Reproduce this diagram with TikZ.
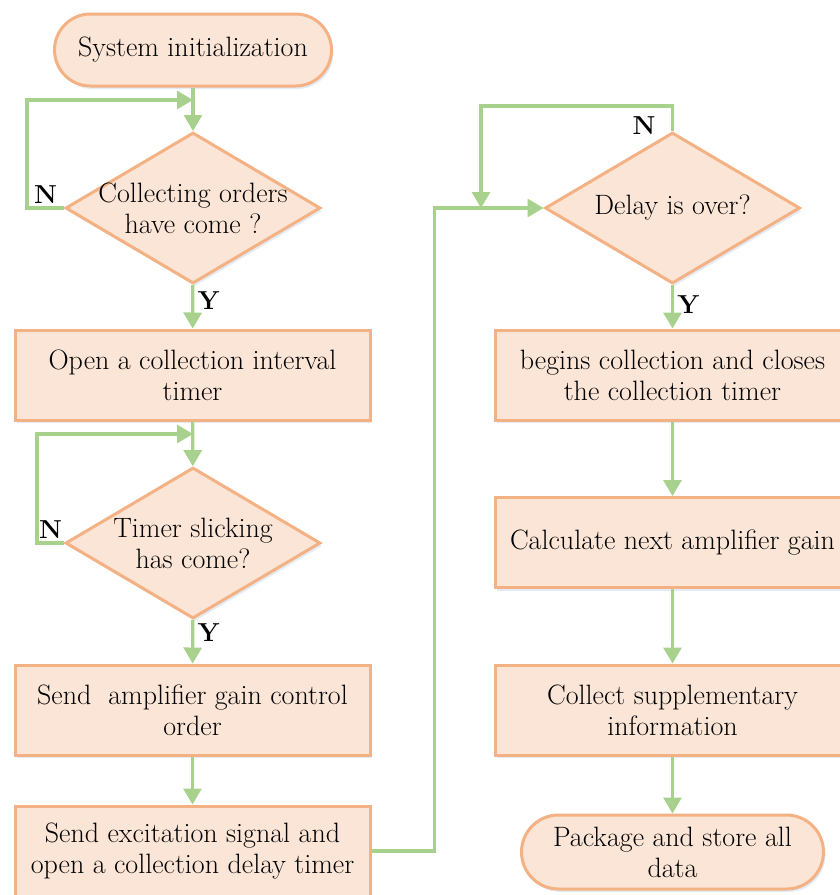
\documentclass[tikz,border=0pt]{standalone}
\usepackage{tikz}
\usetikzlibrary{shapes, arrows.meta, positioning, shadows}
\definecolor{boxfill}{HTML}{FBE5D6}
\definecolor{boxline}{HTML}{F4B183}
\definecolor{flowline}{HTML}{A9D18E}
\newcommand{\ans}{\bfseries\fontsize{26}{26}\selectfont}

\begin{document}
\begin{tikzpicture}[x=1pt,y=-1pt,font=\fontsize{28}{31}\selectfont,
	lightshadow/.style={drop shadow={shadow xshift=2pt,shadow yshift=-3pt,fill=cyan!40!blue,opacity=.12}},
	box/.style={draw=boxline,fill=boxfill,line width=3pt,minimum width=355pt,minimum height=90pt,align=center,lightshadow},
	terminal/.style={box,rounded corners=36pt,minimum width=277pt,minimum height=72pt},
	decision/.style={diamond,draw=boxline,fill=boxfill,line width=3pt,minimum width=255pt,minimum height=151pt,inner sep=0pt,lightshadow},
	flow/.style={draw=flowline,line width=3.2pt,-{Triangle[length=16pt,width=18pt]}},
	answer/.style={font=\ans}]
\useasboundingbox (0,0) rectangle (839,895);

\node(start)[terminal] at (193,50) {System initialization};
\node(d1)[decision,label={[align=center]center:Collecting orders\\have come ?}] at (193,208) {};
\node(box1)[box] at (192.5,375) {Open a collection interval\\timer};
\node(d2)[decision,label={[align=center]center:Timer slicking\\has come?}] at (193,543) {};
\node(box2)[box] at (192.5,710) {Send\ \ amplifier gain control\\order};
\node(box3)[box] at (192.5,851) {Send excitation signal and\\open a collection delay timer};

\node(d3)[decision,label={center:Delay is over?}] at (672.5,208) {};
\node(box4)[box] at (672.5,375) {begins collection and closes\\the collection timer};
\node(box5)[box] at (672.5,542.5) {Calculate next amplifier gain};
\node(box6)[box] at (672.5,710) {Collect supplementary\\information};
\node(stop)[terminal,minimum width=302pt,minimum height=74pt,rounded corners=37pt] at (672.5,852) {Package and store all\\data};

\coordinate(j1) at (193,100);
\coordinate(j2) at (193,434);
\coordinate(j3) at (481,208);

% left column
\draw[flow] (start) -- (d1);
\draw[flow] (d1.west) -- node[answer,above]{N} ++(-37,0) |- (j1);
\draw[flow] (d1) -- node[answer,right,pos=0.35]{Y} (box1);
\draw[flow] (box1) -- (d2);
\draw[flow] (d2.west) -- node[answer,above]{N} ++(-27,0) |- (j2);
\draw[flow] (d2) -- node[answer,right,pos=0.3]{Y} (box2);
\draw[flow] (box2) -- (box3);

% over to the right column
\draw[flow] (box3.east) -- ++(63,0) |- (d3.west);
\draw[flow] (d3.north) -- node[answer,left=12pt,pos=0.2]{N} ++(0,-25) -| (j3);
\draw[flow] (d3) -- node[answer,right,pos=0.45]{Y} (box4);
\draw[flow] (box4) -- (box5);
\draw[flow] (box5) -- (box6);
\draw[flow] (box6) -- (stop);
\end{tikzpicture}
\end{document}
